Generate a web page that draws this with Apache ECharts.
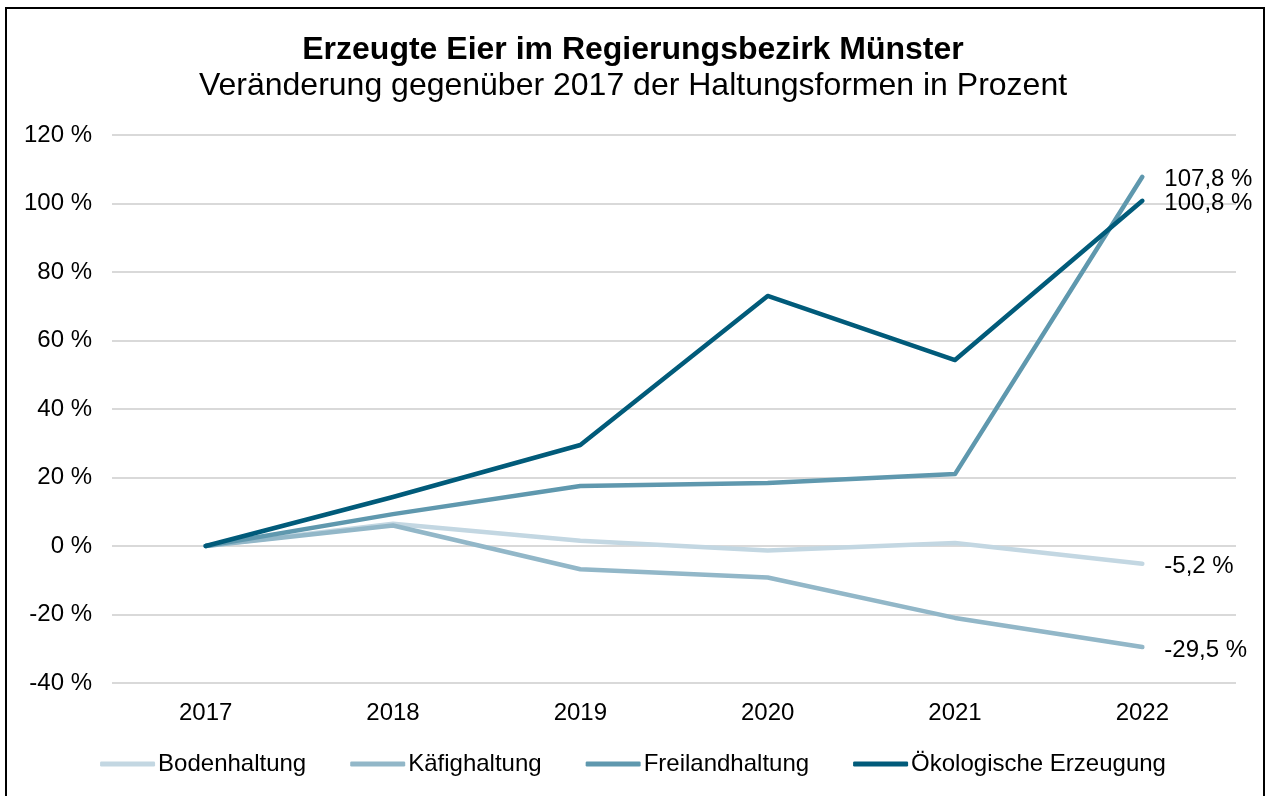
<!DOCTYPE html>
<html>
<head>
<meta charset="utf-8">
<script src="https://cdn.jsdelivr.net/npm/echarts@6/dist/echarts.min.js"></script>
<style>
  html, body { margin: 0; padding: 0; background: #fff; }
  #chart { width: 1266px; height: 796px; }
  #frame {
    position: absolute; left: 5px; top: 7px; width: 1256px; height: 820px;
    border: 2px solid #000; pointer-events: none;
  }
</style>
</head>
<body>
<div id="chart"></div>
<div id="frame"></div>
<script>
var years = ['2017', '2018', '2019', '2020', '2021', '2022'];
var bodenhaltung = [0, 6.5, 1.5, -1.3, 0.9, -5.2];
var kaefighaltung = [0, 6.0, -6.8, -9.2, -21.0, -29.5];
var freilandhaltung = [0, 9.3, 17.5, 18.4, 21.0, 107.8];
var oekologisch = [0, 14.3, 29.5, 73.0, 54.3, 100.8];

var names = ['Bodenhaltung', 'Käfighaltung', 'Freilandhaltung', 'Ökologische Erzeugung'];
var colors = ['#c3d7e2', '#92b7c8', '#5f98ae', '#015b7a'];
var values = [bodenhaltung, kaefighaltung, freilandhaltung, oekologisch];

function fmt(v) {
  return v.toFixed(1).replace('.', ',') + ' %';
}

var chart = echarts.init(document.getElementById('chart'));
var font = 'Liberation Sans, Arial, sans-serif';

var series = names.map(function (n, i) {
  return {
    name: n,
    type: 'line',
    data: values[i],
    symbol: 'none',
    z: i + 2,
    lineStyle: { width: 4.5, color: colors[i], cap: 'round', join: 'round' },
    itemStyle: { color: colors[i] },
    endLabel: {
      show: true,
      distance: 22,
      offset: [0, 3],
      color: '#000',
      fontSize: 24,
      fontFamily: font,
      formatter: function (p) { return fmt(p.value); }
    }
  };
});

chart.setOption({
  animation: false,
  title: [
    {
      text: 'Erzeugte Eier im Regierungsbezirk Münster',
      left: 'center', top: 29,
      textStyle: { fontFamily: font, fontSize: 32, fontWeight: 'bold', color: '#000' }
    },
    {
      text: 'Veränderung gegenüber 2017 der Haltungsformen in Prozent',
      left: 'center', top: 65,
      textStyle: { fontFamily: font, fontSize: 32, fontWeight: 'normal', color: '#000' }
    }
  ],
  grid: { left: 112, right: 30, top: 135, bottom: 113 },
  legend: {
    data: names.map(function (n) { return { name: n, icon: 'roundRect' }; }),
    bottom: 15,
    left: 'center',
    itemWidth: 55,
    itemHeight: 5,
    itemGap: 44,
    textStyle: { fontFamily: font, fontSize: 24, color: '#000', padding: [0, 0, 0, -2] }
  },
  xAxis: {
    type: 'category',
    data: years,
    axisLine: { show: false },
    axisTick: { show: false },
    axisLabel: { color: '#000', fontSize: 24, fontFamily: font, margin: 18 }
  },
  yAxis: {
    type: 'value',
    min: -40,
    max: 120,
    interval: 20,
    axisLine: { show: false },
    axisTick: { show: false },
    axisLabel: {
      color: '#000', fontSize: 24, fontFamily: font, margin: 20,
      formatter: function (v) { return v + ' %'; }
    },
    splitLine: { lineStyle: { color: '#d9d9d9', width: 2 } }
  },
  series: series
});
</script>
</body>
</html>
